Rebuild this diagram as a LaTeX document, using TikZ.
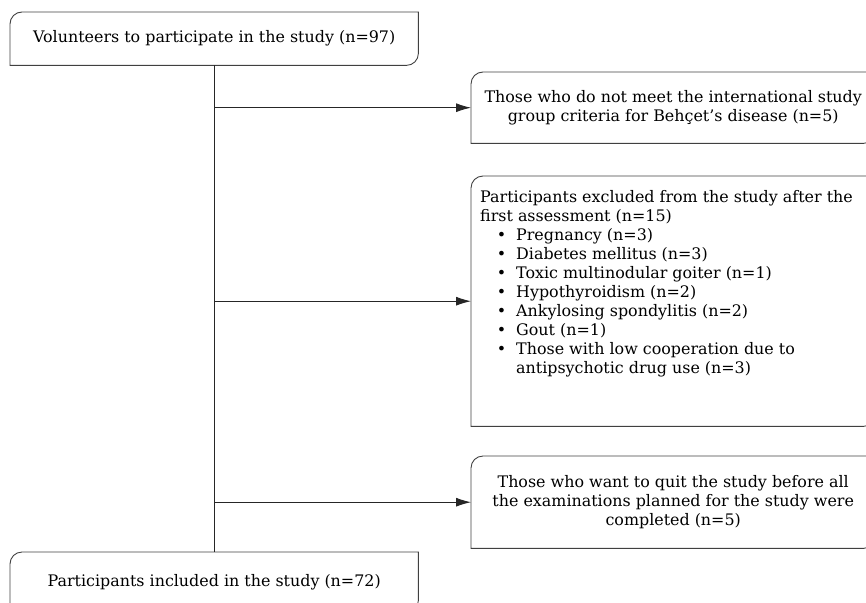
\documentclass[tikz,border=0pt]{standalone}
\usepackage{fontspec}
\setmainfont{DejaVu Serif}
\usetikzlibrary{arrows.meta}

% outline with the top left and bottom right corners rounded
\newcommand{\cornerframe}[1]{%
  \draw[frameline] ([xshift=12pt]#1.north west) -- (#1.north east) -- ([yshift=12pt]#1.south east)
    arc[start angle=0, end angle=-90, radius=12pt] -- (#1.south west) -- ([yshift=-12pt]#1.north west)
    arc[start angle=180, end angle=90, radius=12pt];}
\newcommand{\bulitem}[1]{\makebox[36pt][r]{\textbullet\hspace{10pt}}#1}

\begin{document}
\begin{tikzpicture}[x=1pt, y=1pt,
    every node/.style={font=\fontsize{15.9}{19}\selectfont},
    flowbox/.style={anchor=north west, inner sep=0pt, align=center, minimum width=404pt},
    frameline/.style={line width=0.9pt, draw=black!75},
    link/.style={line width=0.9pt, draw=black!85},
    arrowlink/.style={link, -{Latex[length=15pt, width=9pt]}}]
    \useasboundingbox (0,0) rectangle (866,-602);
    \clip (0,0) rectangle (866,-602);

    \node[flowbox, minimum width=408pt, minimum height=53pt] (vol) at (10,-12)
        {Volunteers to participate in the study (n=97)};
    \node[flowbox, minimum height=71pt] (crit) at (471,-72)
        {Those who do not meet the international study\\group criteria for Behçet\symbol{"0027}s disease (n=5)};
    \node[flowbox, minimum height=250pt] (excl) at (471,-176)
        {\begin{minipage}[t][222pt][t]{386pt}\raggedright
         Participants excluded from the study after the\\
         first assessment (n=15)\\
         \bulitem{Pregnancy (n=3)}\\
         \bulitem{Diabetes mellitus (n=3)}\\
         \bulitem{Toxic multinodular goiter (n=1)}\\
         \bulitem{Hypothyroidism (n=2)}\\
         \bulitem{Ankylosing spondylitis (n=2)}\\
         \bulitem{Gout (n=1)}\\
         \bulitem{Those with low cooperation due to}\\
         \hspace*{36pt}antipsychotic drug use (n=3)
         \end{minipage}};
    \node[flowbox, minimum height=92pt] (quit) at (471,-456)
        {Those who want to quit the study before all\\the examinations planned for the study were\\completed (n=5)};
    \node[flowbox, minimum width=408pt, minimum height=60pt] (incl) at (10,-552)
        {Participants included in the study (n=72)};

    \cornerframe{vol}
    \cornerframe{crit}
    \cornerframe{excl}
    \cornerframe{quit}
    \cornerframe{incl}

    \draw[link] (vol.south) -- (incl.north);
    \draw[arrowlink] (vol.south |- crit.west) -- (crit.west);
    \draw[arrowlink] (vol.south |- excl.west) -- (excl.west);
    \draw[arrowlink] (vol.south |- quit.west) -- (quit.west);
\end{tikzpicture}
\end{document}
